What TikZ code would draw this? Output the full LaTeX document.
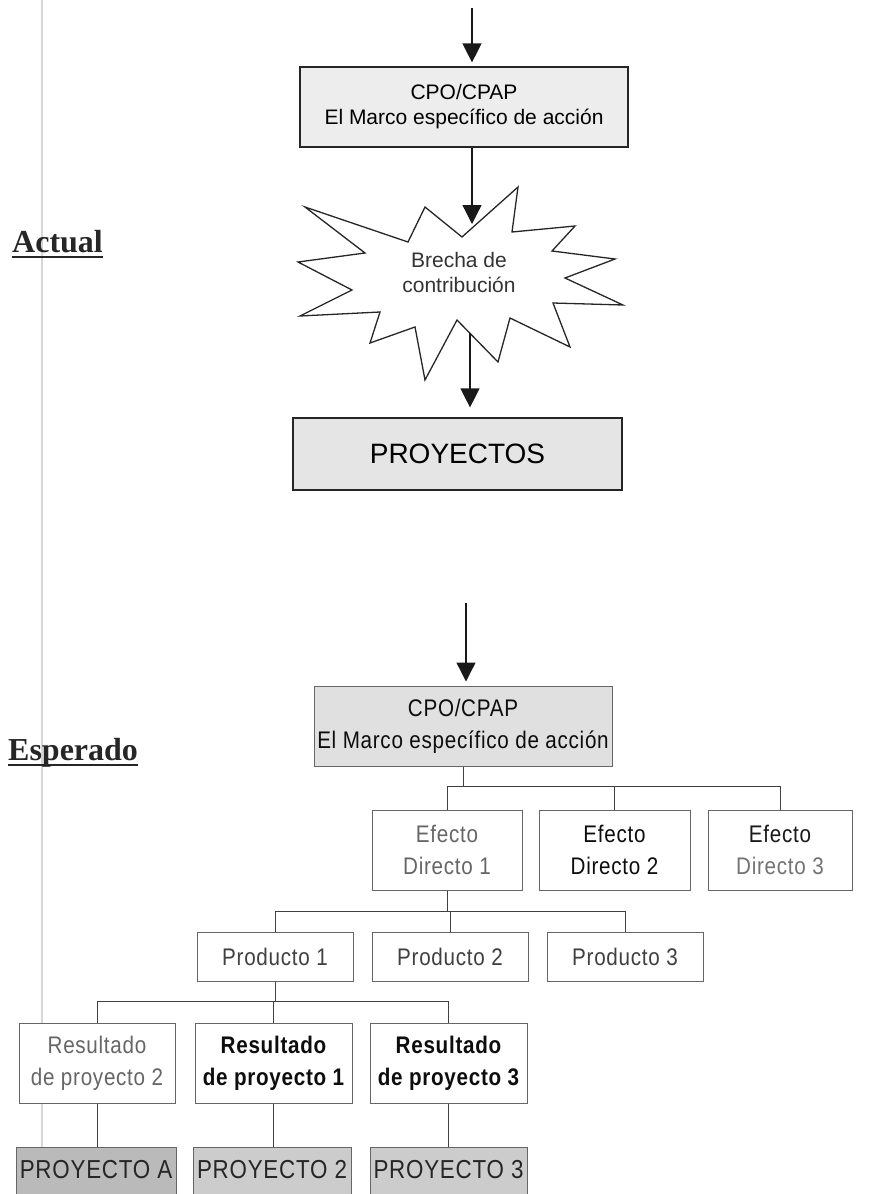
\documentclass[tikz,border=0pt]{standalone}
\usepackage{fontspec}
\setmainfont{Liberation Serif}
\setsansfont{Liberation Sans}
\newfontfamily\narrowsf[FakeStretch=0.86,LetterSpace=3]{Liberation Sans}
\usetikzlibrary{arrows.meta}

\begin{document}
\begin{tikzpicture}[x=1pt,y=-1pt,
  arr/.style={line width=1.3pt, draw=black!90, shorten >=4pt,
    -{Triangle[width=19pt,length=19pt]}},
  topbox/.style={draw=black!85, line width=1.2pt, fill=black!7,
    font=\sffamily\fontsize{21}{25}\selectfont, align=center, inner sep=0pt},
  starline/.style={draw=black!85, line width=1.3pt, fill=white, line join=miter},
  lowbox/.style={draw=black!60, line width=1pt, fill=white,
    font=\narrowsf\fontsize{24}{32}\selectfont, align=center, inner sep=0pt,
    minimum height=80pt},
  prodbox/.style={lowbox, minimum height=49pt, minimum width=156pt},
  projbox/.style={draw=black!60, line width=1pt, inner sep=0pt,
    minimum height=56pt},
  projtext/.style={font=\narrowsf\fontsize{26}{30}\selectfont, text=black!85,
    inner sep=0pt},
  tree/.style={draw=black!75, line width=1pt},
  light/.style={text=black!60},
  dark/.style={text=black!95},
  lbl/.style={font=\bfseries\fontsize{32}{36}\selectfont, text=black!85,
    inner sep=0pt},
  uline/.style={draw=black!85, line width=2pt}
]
\useasboundingbox (0,0) rectangle (875,1194);
\clip (0,0) rectangle (875,1194);

% faint vertical rule down the left margin
\draw[black!16, line width=2.5pt] (42,0) -- (42,1194);

% ---------- side labels ----------
\node[lbl, anchor=base west] (actual) at (12,252) {Actual};
\draw[uline] ([yshift=-5pt]actual.base west) -- ([yshift=-5pt]actual.base east);
\node[lbl, anchor=base west] (esperado) at (8,760) {Esperado};
\draw[uline] ([yshift=-5pt]esperado.base west) -- ([yshift=-5pt]esperado.base east);

% ---------- current situation ----------
\node[topbox, minimum width=328pt, minimum height=80pt] (cpo1) at (464,107)
  {CPO/CPAP\\El Marco específico de acción};
\coordinate (topin) at (472,8);
\draw[arr] (topin) -- (topin |- cpo1.north);

% contribution gap (starburst)
\draw[starline] (305,207) -- (408,242) -- (425,207) -- (462,237) -- (518,187)
  -- (512,232) -- (575,226) -- (552,251) -- (615,259) -- (565,278) -- (623,305)
  -- (553,303) -- (570,347) -- (510,318) -- (498,362) -- (457,320) -- (425,380)
  -- (415,327) -- (370,343) -- (380,312) -- (300,316) -- (352,290) -- (298,262)
  -- (365,253) -- cycle;
\node[font=\sffamily\fontsize{21}{25}\selectfont, text=black!80, align=center,
  inner sep=0pt] (brecha) at (459,272) {Brecha de\\contribución};
\coordinate (startop) at (472,228);
\coordinate (starbot) at (470,333);
\draw[arr] (cpo1.south -| startop) -- (startop);

\node[topbox, fill=black!10, minimum width=329pt, minimum height=72pt,
  font=\sffamily\fontsize{28}{32}\selectfont] (proy) at (457.5,454) {PROYECTOS};
\draw[arr, shorten >=10pt] (starbot) -- (starbot |- proy.north);

% ---------- expected situation ----------
\node[lowbox, fill=black!12, minimum width=298pt, dark] (cpo2) at (463,726)
  {CPO/CPAP\\El Marco específico de acción};
\coordinate (topin2) at (466,603);
\draw[arr] (topin2) -- (topin2 |- cpo2.north);

% direct effects
\node[lowbox, minimum width=150pt, light] (ef1) at (447,850) {Efecto\\Directo 1};
\node[lowbox, minimum width=151pt, dark] (ef2) at (614.5,850) {Efecto\\Directo 2};
\node[lowbox, minimum width=144pt] (ef3) at (780,850)
  {{\color{black!90}Efecto}\\{\color{black!55}Directo 3}};
\draw[tree] (cpo2.south) -- (cpo2.south |- 0,787);
\draw[tree] (ef1.north) -- ++(0,-23) -| (ef3.north);
\draw[tree] (ef2.north) -- ++(0,-23);

% products
\node[prodbox, text=black!75] (pr1) at (275,956.5) {Producto 1};
\node[prodbox, text=black!75] (pr2) at (450,956.5) {Producto 2};
\node[prodbox, text=black!75] (pr3) at (625,956.5) {Producto 3};
\draw[tree] (ef1.south) -- (ef1.south |- 0,912);
\draw[tree] (pr1.north) -- ++(0,-20.5) -| (pr3.north);
\draw[tree] (pr2.north) -- ++(0,-20.5);

% project results
\node[lowbox, minimum width=156pt, light] (re1) at (97,1063)
  {Resultado\\de proyecto 2};
\node[lowbox, minimum width=157pt, dark, font=\narrowsf\bfseries\fontsize{24}{32}\selectfont] (re2) at (273.5,1063)
  {Resultado\\de proyecto 1};
\node[lowbox, minimum width=157pt, dark, font=\narrowsf\bfseries\fontsize{24}{32}\selectfont] (re3) at (448.5,1063)
  {Resultado\\de proyecto 3};
\draw[tree] (pr1.south) -- (pr1.south |- 0,1002);
\draw[tree] (re1.north) -- ++(0,-21) -| (re3.north);
\draw[tree] (re2.north) -- ++(0,-21);

% projects
\node[projbox, fill=black!27, minimum width=160pt] (pjA) at (96,1175) {};
\node[projbox, fill=black!20, minimum width=158pt] (pj2) at (272,1175) {};
\node[projbox, fill=black!20, minimum width=157pt] (pj3) at (448.5,1175) {};
\node[projtext] (tA) at ([yshift=-23pt]pjA.north) {PROYECTO A};
\node[projtext] (t2) at ([yshift=-23pt]pj2.north) {PROYECTO 2};
\node[projtext] (t3) at ([yshift=-23pt]pj3.north) {PROYECTO 3};
\draw[tree] (re1.south) -- (re1.south |- pjA.north);
\draw[tree] (re2.south) -- (re2.south |- pj2.north);
\draw[tree] (re3.south) -- (re3.south |- pj3.north);
\end{tikzpicture}
\end{document}
